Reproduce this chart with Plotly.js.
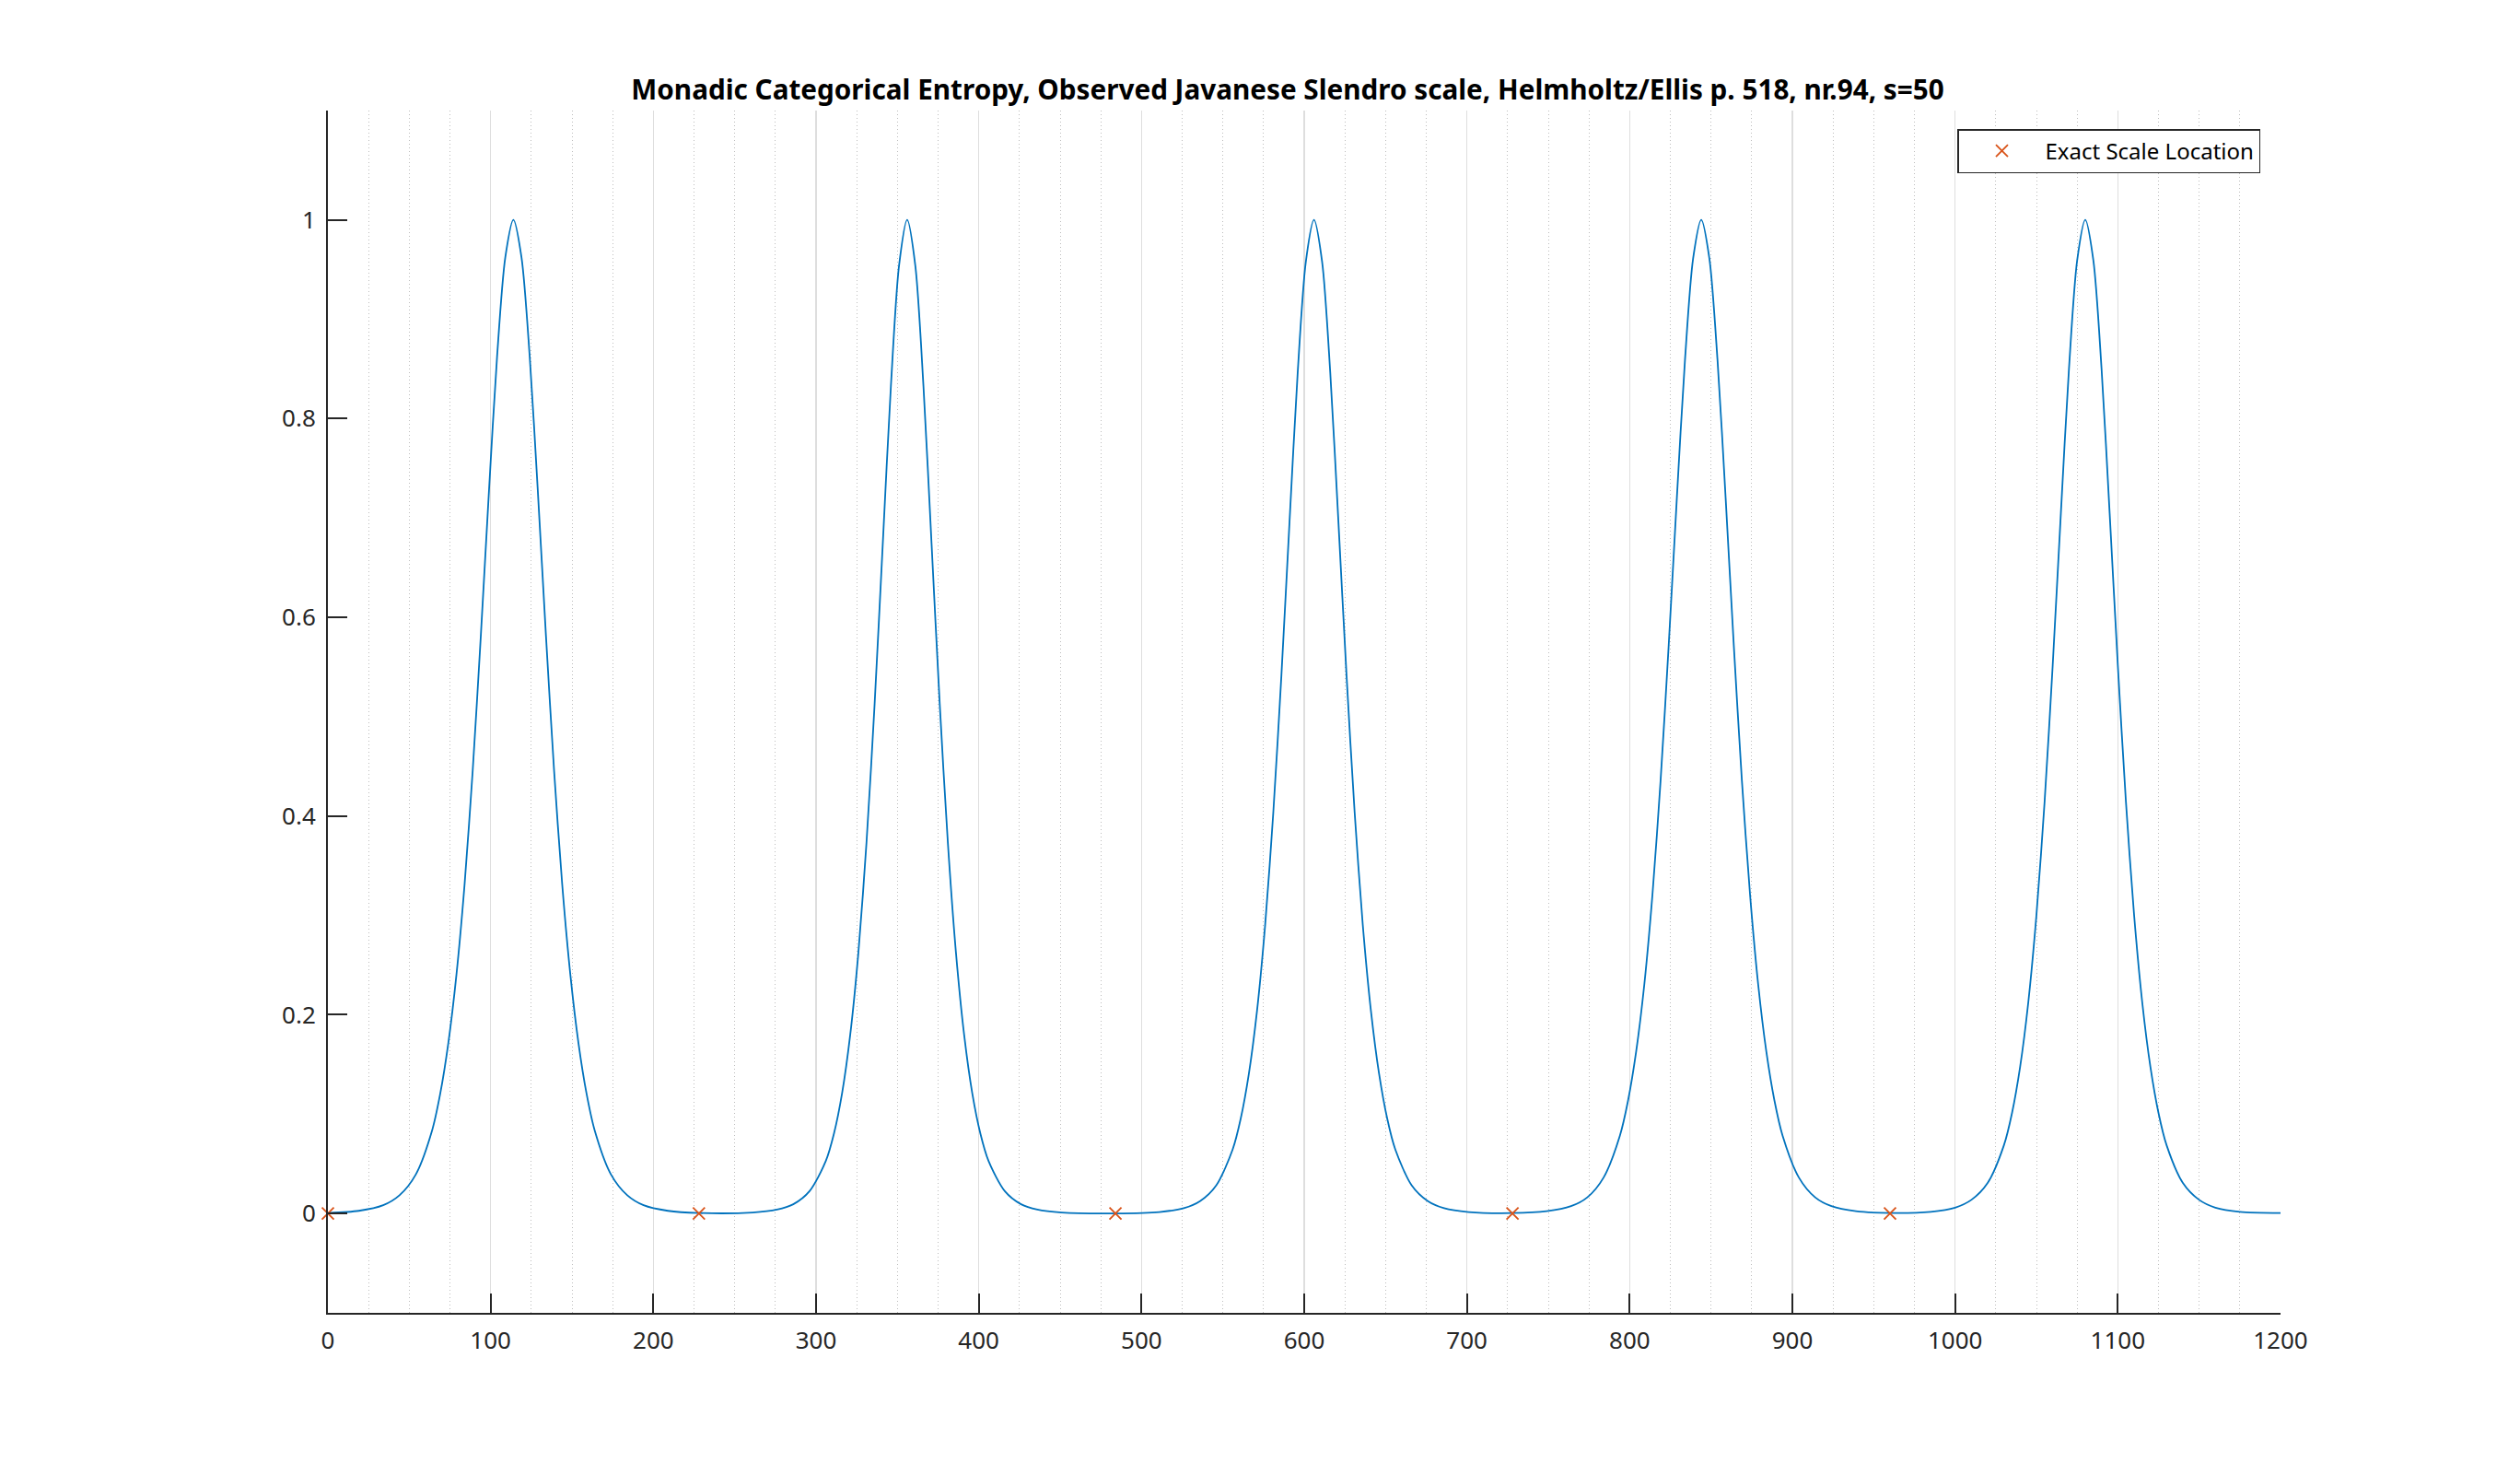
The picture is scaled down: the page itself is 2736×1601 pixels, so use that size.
<!DOCTYPE html>
<html>
<head>
<meta charset="utf-8">
<script src="https://cdn.plot.ly/plotly-3.0.1.min.js"></script>
<style>html,body{margin:0;padding:0;background:#fff;}#chart{width:2736px;height:1601px;}</style>
</head>
<body>
<div id="chart"></div>
<script>
// Curve, one segment per peak (cents, normalised entropy)
var seg1X = [0, 19, 34, 44, 54, 64, 69, 74, 79, 84, 89, 94, 99, 104, 109, 114, 119, 124, 129, 134, 139, 144, 149, 154, 159, 164, 174, 184, 194, 209];
var seg1Y = [0.0005, 0.0027, 0.0083, 0.0183, 0.0392, 0.0834, 0.1203, 0.1714, 0.2404, 0.3312, 0.4459, 0.5818, 0.7274, 0.8630, 0.9620, 1.0, 0.9620, 0.8630, 0.7274, 0.5818, 0.4459, 0.3312, 0.2404, 0.1714, 0.1203, 0.0834, 0.0392, 0.0183, 0.0083, 0.0027];
var seg2X = [228, 261, 276, 286, 296, 306, 311, 316, 321, 326, 331, 336, 341, 346, 351, 356, 361, 366, 371, 376, 381, 386, 391, 396, 401, 406, 416, 426, 436, 451];
var seg2Y = [0.0005, 0.0010, 0.0039, 0.0093, 0.0225, 0.0528, 0.0803, 0.1210, 0.1798, 0.2622, 0.3733, 0.5130, 0.6737, 0.8328, 0.9539, 1.0, 0.9539, 0.8328, 0.6737, 0.5130, 0.3733, 0.2622, 0.1798, 0.1210, 0.0803, 0.0528, 0.0225, 0.0093, 0.0039, 0.0010];
var seg3X = [484, 511, 526, 536, 546, 556, 561, 566, 571, 576, 581, 586, 591, 596, 601, 606, 611, 616, 621, 626, 631, 636, 641, 646, 651, 656, 666, 676, 686, 701];
var seg3Y = [0.0001, 0.0015, 0.0053, 0.0124, 0.0284, 0.0643, 0.0956, 0.1407, 0.2040, 0.2904, 0.4035, 0.5420, 0.6968, 0.8463, 0.9579, 1.0, 0.9579, 0.8463, 0.6968, 0.5420, 0.4035, 0.2904, 0.2040, 0.1407, 0.0956, 0.0643, 0.0284, 0.0124, 0.0053, 0.0015];
var seg4X = [728, 749, 764, 774, 784, 794, 799, 804, 809, 814, 819, 824, 829, 834, 839, 844, 849, 854, 859, 864, 869, 874, 879, 884, 889, 894, 904, 914, 924, 939];
var seg4Y = [0.0004, 0.0023, 0.0074, 0.0163, 0.0362, 0.0783, 0.1135, 0.1629, 0.2303, 0.3207, 0.4353, 0.5719, 0.7198, 0.8588, 0.9610, 1.0, 0.9610, 0.8588, 0.7198, 0.5719, 0.4353, 0.3207, 0.2303, 0.1629, 0.1135, 0.0783, 0.0362, 0.0163, 0.0074, 0.0023];
var seg5X = [960, 985, 1000, 1010, 1020, 1030, 1035, 1040, 1045, 1050, 1055, 1060, 1065, 1070, 1075, 1080, 1085, 1090, 1095, 1100, 1105, 1110, 1115, 1120, 1125, 1130, 1140, 1150, 1160, 1175, 1200];
var seg5Y = [0.0005, 0.0017, 0.0059, 0.0137, 0.0307, 0.0686, 0.1012, 0.1479, 0.2127, 0.3006, 0.4141, 0.5520, 0.7045, 0.8504, 0.9589, 1.0, 0.9589, 0.8504, 0.7045, 0.5520, 0.4141, 0.3006, 0.2127, 0.1479, 0.1012, 0.0686, 0.0307, 0.0137, 0.0059, 0.0017, 0.0005];

// Exact scale locations (cents)
var scaleCents = [0, 228, 484, 728, 960];
var scaleY = [0, 0, 0, 0, 0];

var yTickVals = [0, 0.2, 0.4, 0.6, 0.8, 1];
var yTickText = ['0', '0.2', '0.4', '0.6', '0.8', '1'];
var xTickVals = [0, 100, 200, 300, 400, 500, 600, 700, 800, 900, 1000, 1100, 1200];
var xTickText = ['0', '100', '200', '300', '400', '500', '600', '700', '800', '900', '1000', '1100', '1200'];

var titleText = 'Monadic Categorical Entropy, Observed Javanese Slendro scale, Helmholtz/Ellis p. 518, nr.94, s=50';
var legendText = 'Exact Scale Location';

var curveX = seg1X.concat(seg2X, seg3X, seg4X, seg5X);
var curveY = seg1Y.concat(seg2Y, seg3Y, seg4Y, seg5Y);

var axisCol = '#262626';
var FONT = 'Noto Sans, Open Sans, sans-serif';

var traces = [
  {
    x: curveX, y: curveY, type: 'scatter', mode: 'lines',
    line: {color: '#0072BD', width: 1.8, shape: 'spline', smoothing: 0.8},
    showlegend: false, hoverinfo: 'skip'
  },
  {
    x: scaleCents, y: scaleY, type: 'scatter', mode: 'markers',
    name: legendText,
    marker: {symbol: 'x-thin-open', size: 13, color: '#D95319', line: {color: '#D95319', width: 1.8}},
    cliponaxis: false
  }
];

var layout = {
  width: 2736, height: 1601,
  paper_bgcolor: '#ffffff', plot_bgcolor: '#ffffff',
  margin: {l: 356, r: 260, t: 120, b: 176, pad: 0},
  font: {family: FONT, size: 26, color: axisCol},
  title: {
    text: '<b>' + titleText + '</b>',
    font: {family: FONT, size: 29.7, color: '#000000'},
    x: (1398 - 356) / 2120, xref: 'paper', xanchor: 'center',
    y: 1 - 98 / 1601, yref: 'container', yanchor: 'middle'
  },
  xaxis: {
    range: [0, 1200], tickmode: 'array', tickvals: xTickVals, ticktext: xTickText,
    ticks: 'inside', ticklen: 21, tickwidth: 2, tickcolor: axisCol,
    showline: true, linecolor: axisCol, linewidth: 2, mirror: false,
    showgrid: true, gridcolor: '#dedede', gridwidth: 1.5, zeroline: false,
    minor: {dtick: 25, tick0: 0, showgrid: true, gridcolor: '#bdbdbd', griddash: '1px,3px', gridwidth: 1, ticks: ''},
    tickfont: {family: FONT, size: 26, color: axisCol},
    ticklabelstandoff: 6,
    fixedrange: true
  },
  yaxis: {
    range: [-0.1, 1.11], tickmode: 'array', tickvals: yTickVals, ticktext: yTickText,
    ticks: 'inside', ticklen: 21, tickwidth: 2, tickcolor: axisCol,
    showline: true, linecolor: axisCol, linewidth: 2, mirror: false,
    showgrid: false, zeroline: false,
    tickfont: {family: FONT, size: 26, color: axisCol},
    ticklabelstandoff: 6,
    fixedrange: true
  },
  showlegend: true,
  legend: {
    x: (2454 - 356) / 2120, xanchor: 'right', xref: 'paper',
    y: (1425 - 140) / 1305, yanchor: 'top', yref: 'paper',
    bgcolor: '#ffffff', bordercolor: axisCol, borderwidth: 1.5,
    font: {family: FONT, size: 24, color: '#000000'},
    itemwidth: 84
  }
};

Plotly.newPlot('chart', traces, layout, {staticPlot: true, displayModeBar: false});
</script>
</body>
</html>
